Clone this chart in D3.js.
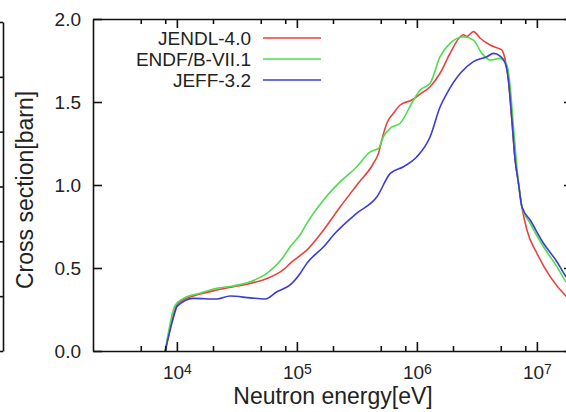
<!DOCTYPE html>
<html lang="en">
<head>
<meta charset="utf-8" />
<title>Cross section vs neutron energy</title>
<script src="https://d3js.org/d3.v7.min.js"></script>
<style>
  body { margin: 0; background: #fff; }
  svg  { display: block; font-family: "Liberation Sans", Arial, Helvetica, sans-serif; }
  .axis path, .axis line { stroke: #111; stroke-width: 1.6px; }
  .axis text { font-size: 19px; fill: #222; }
  .series { fill: none; stroke-width: 1.6px; }
</style>
</head>
<body>
<svg id="chart" width="566" height="412"></svg>
<script>
// ---- data: [energy eV, cross section barn] ----
const jendl = [
  [8.0e3,0],[1.03e4,0.289],[1.56e4,0.343],[2.15e4,0.367],[2.96e4,0.387],[4.08e4,0.407],
  [5.62e4,0.437],[7.73e4,0.49],[8.79e4,0.528],[1.065e5,0.575],[1.21e5,0.608],[1.67e5,0.729],
  [2.30e5,0.869],[3.16e5,1.0],[4.35e5,1.131],[4.79e5,1.191],[5.1e5,1.271],[5.62e5,1.372],
  [6.38e5,1.432],[7.26e5,1.482],[9.08e5,1.512],[1.065e6,1.548],[1.29e6,1.592],[1.56e6,1.673],
  [1.89e6,1.793],[2.30e6,1.893],[2.44e6,1.905],[2.61e6,1.895],[2.96e6,1.924],[3.37e6,1.884],
  [4.08e6,1.843],[4.79e6,1.823],[5.1e6,1.813],[5.45e6,1.753],[5.79e6,1.633],[6.19e6,1.39],
  [6.59e6,1.15],[7.03e6,1.01],[7.5e6,0.869],[8.26e6,0.729],[1.0e7,0.589],[1.29e7,0.448],
  [1.75e7,0.33],[2.0e7,0.29]
];
const endf = [
  [8.0e3,0],[9.7e3,0.277],[1.135e4,0.317],[1.56e4,0.348],[2.15e4,0.378],[2.96e4,0.392],
  [4.08e4,0.417],[5.62e4,0.468],[7.73e4,0.568],[8.79e4,0.628],[1.065e5,0.70],[1.21e5,0.769],
  [1.67e5,0.91],[2.30e5,1.02],[3.16e5,1.11],[4.08e5,1.2],[4.79e5,1.221],[5.27e5,1.291],
  [6.0e5,1.342],[7.26e5,1.372],[9.38e5,1.512],[1.065e6,1.572],[1.29e6,1.613],[1.56e6,1.773],
  [1.89e6,1.853],[2.44e6,1.893],[2.96e6,1.873],[3.48e6,1.793],[4.08e6,1.753],[4.94e6,1.763],
  [5.62e6,1.723],[5.99e6,1.592],[6.38e6,1.351],[7.03e6,1.01],[7.5e6,0.869],[8.79e6,0.769],
  [1.135e7,0.628],[1.47e7,0.508],[1.75e7,0.417],[2.0e7,0.38]
];
const jeff = [
  [8.0e3,0],[9.7e3,0.24],[1.0e4,0.267],[1.37e4,0.317],[2.15e4,0.313],[2.78e4,0.331],
  [4.08e4,0.320],[5.45e4,0.313],[6.81e4,0.357],[8.79e4,0.398],[1.065e5,0.467],[1.21e5,0.528],
  [1.67e5,0.628],[2.08e5,0.709],[3.16e5,0.83],[4.65e5,0.929],[6.0e5,1.07],[7.73e5,1.11],
  [1.0e6,1.17],[1.29e6,1.291],[1.56e6,1.47],[1.78e6,1.552],[2.30e6,1.673],[2.96e6,1.743],
  [3.83e6,1.773],[4.35e6,1.793],[4.94e6,1.777],[5.45e6,1.733],[5.79e6,1.633],[6.19e6,1.392],
  [6.59e6,1.15],[7.03e6,1.01],[7.5e6,0.869],[8.79e6,0.789],[1.135e7,0.649],[1.47e7,0.538],
  [1.75e7,0.448],[2.0e7,0.41]
];

const seriesNames  = ["JENDL-4.0", "ENDF/B-VII.1", "JEFF-3.2"];
const seriesColors = ["#e8423f", "#4fdc4f", "#3c3cd2"];
const seriesData   = [jendl, endf, jeff];

const majorTicksX = [1e4, 1e5, 1e6, 1e7];
const minorTicksX = [5e3, 8e3, 2e4, 5e4, 8e4, 2e5, 5e5, 8e5, 2e6, 5e6, 8e6];
const ticksY      = [0, 0.5, 1.0, 1.5, 2.0];

// ---- layout ----
const svg = d3.select("#chart");
const plotL = 93, plotT = 19, plotR = 573, plotB = 351;

const x = d3.scaleLog().domain([2e3, 2e7]).range([plotL, plotR]);
const y = d3.scaleLinear().domain([0, 2]).range([plotB, plotT]);

// curves first, frame on top
const line = d3.line()
  .x(d => x(d[0]))
  .y(d => y(d[1]))
  .curve(d3.curveMonotoneX);

svg.append("g").selectAll("path")
  .data(seriesData)
  .join("path")
    .attr("class", "series")
    .attr("stroke", (d, i) => seriesColors[i])
    .attr("d", line);

// ---- axes (ticks point inward on all four sides) ----
const gBottom = svg.append("g").attr("class", "axis")
  .attr("transform", `translate(0,${plotB})`)
  .call(d3.axisBottom(x).tickValues(majorTicksX).tickSizeInner(-9).tickSizeOuter(0).tickPadding(15));

gBottom.selectAll(".tick text").each(function(d) {
  const t = d3.select(this).text(null).attr("font-size", "20px");
  t.append("tspan").text("10");
  t.append("tspan").attr("dy", "-0.42em").attr("font-size", "14px").text(Math.round(Math.log10(d)));
});

svg.append("g").attr("class", "axis")
  .attr("transform", `translate(0,${plotB})`)
  .call(d3.axisBottom(x).tickValues(minorTicksX).tickSizeInner(-5).tickSizeOuter(0).tickFormat(""))
  .select(".domain").remove();

svg.append("g").attr("class", "axis")
  .attr("transform", `translate(0,${plotT})`)
  .call(d3.axisBottom(x).tickValues(majorTicksX).tickSizeInner(9).tickSizeOuter(0).tickFormat(""));

svg.append("g").attr("class", "axis")
  .attr("transform", `translate(0,${plotT})`)
  .call(d3.axisBottom(x).tickValues(minorTicksX).tickSizeInner(5).tickSizeOuter(0).tickFormat(""))
  .select(".domain").remove();

svg.append("g").attr("class", "axis")
  .attr("transform", `translate(${plotL},0)`)
  .call(d3.axisLeft(y).tickValues(ticksY).tickSizeInner(-9).tickSizeOuter(0).tickPadding(12)
    .tickFormat(d3.format(".1f")));

svg.append("g").attr("class", "axis")
  .attr("transform", `translate(${plotR},0)`)
  .call(d3.axisLeft(y).tickValues(ticksY).tickSizeInner(9).tickSizeOuter(0).tickFormat(""));

// edge of the neighbouring panel on the far left
const yNeighbour = d3.scaleLinear().domain([0, 6]).range([plotB, 22]);
svg.append("g").attr("class", "axis")
  .attr("transform", "translate(3,0)")
  .call(d3.axisLeft(yNeighbour).ticks(6).tickSizeInner(3).tickSizeOuter(0).tickFormat(""));

// ---- titles ----
svg.append("text")
  .attr("x", (plotL + plotR) / 2).attr("y", 404)
  .attr("text-anchor", "middle")
  .attr("font-size", "23px").attr("fill", "#222")
  .text("Neutron energy[eV]");

svg.append("text")
  .attr("transform", `translate(33,${(plotT + plotB) / 2 + 5}) rotate(-90)`)
  .attr("text-anchor", "middle")
  .attr("font-size", "23px").attr("fill", "#222")
  .text("Cross section[barn]");

// ---- legend ----
const legend = svg.append("g").selectAll("g")
  .data(seriesNames)
  .join("g")
    .attr("transform", (d, i) => `translate(251,${45 + i * 21})`);

legend.append("text")
  .attr("text-anchor", "end")
  .attr("font-size", "19px").attr("fill", "#222")
  .text(d => d);

legend.append("line")
  .attr("x1", 12).attr("x2", 70)
  .attr("y1", -7).attr("y2", -7)
  .attr("stroke", (d, i) => seriesColors[i])
  .attr("stroke-width", 1.6);
</script>
</body>
</html>
